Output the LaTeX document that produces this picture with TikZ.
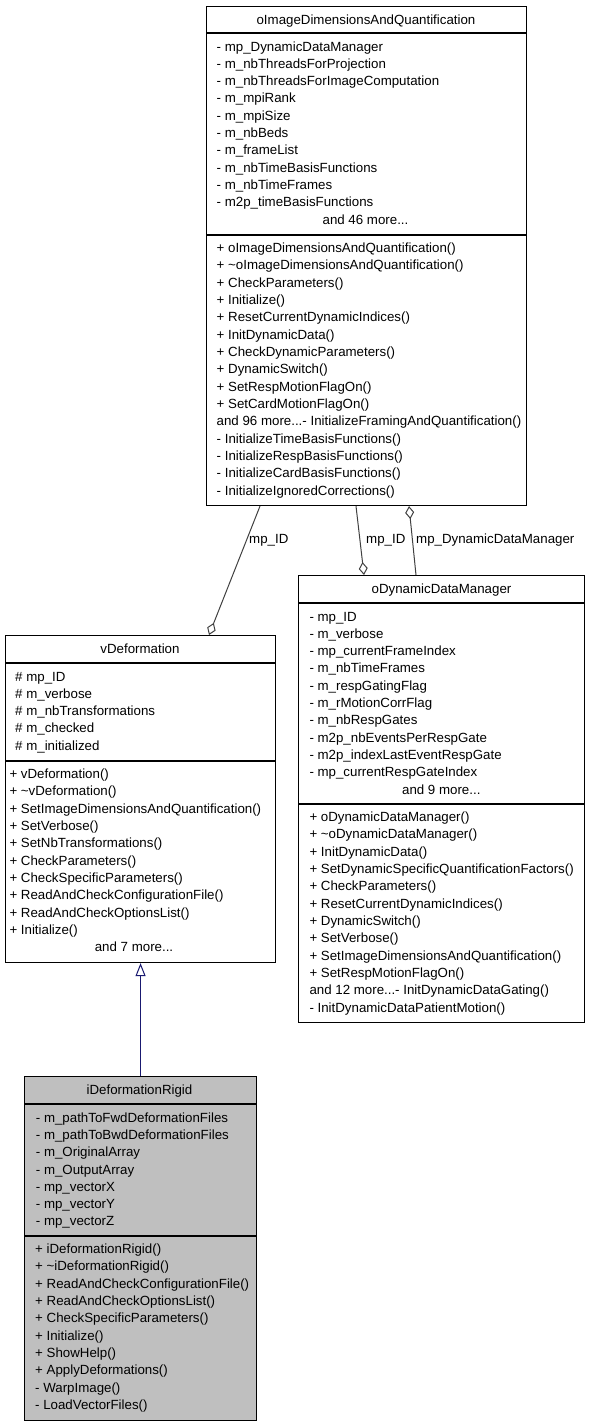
\documentclass[tikz,border=0pt]{standalone}
\usepackage{fontspec}
\setmainfont{Liberation Sans}
\usetikzlibrary{arrows.meta}
\definecolor{grey75}{HTML}{BFBFBF}
\definecolor{grey25}{HTML}{404040}
\definecolor{navyedge}{HTML}{191970}
\newcommand\moredots{...}
\tikzset{
  classbox/.style={draw=black, line width=1.1pt, anchor=north west, inner sep=0},
  sepline/.style={line width=1.1pt},
  member/.style={anchor=base west, inner sep=0, font=\fontsize{13.3}{16}\selectfont},
  classtitle/.style={anchor=base, inner sep=0, font=\fontsize{13.3}{16}\selectfont},
  edgelabel/.style={anchor=base west, inner sep=0, font=\fontsize{13.3}{16}\selectfont},
  aggr/.style={draw=grey25, line width=1pt, -{Diamond[open, length=13pt, width=9pt]}},
  inherit/.style={draw=navyedge, line width=1pt, -{Triangle[open, length=13pt, width=10pt]}}
}
\begin{document}
\begin{tikzpicture}[x=1pt, y=-1pt]
    \useasboundingbox (0,0) rectangle (589,1427);

    % 类框
    \node[classbox, minimum width=320, minimum height=499] (img) at (206,6) {};
    \node[classbox, minimum width=270, minimum height=327] (vdef) at (5,635) {};
    \node[classbox, minimum width=286, minimum height=447] (ddm) at (298,575) {};
    \node[classbox, fill=grey75, minimum width=232, minimum height=344] (rigid) at (24,1076) {};

    % 分隔线
    \draw[sepline] (206,33) -- (526,33) (206,235) -- (526,235);
    \draw[sepline] (5,663) -- (275,663) (5,761) -- (275,761);
    \draw[sepline] (298,603) -- (584,603) (298,804) -- (584,804);
    \draw[sepline] (24,1104) -- (256,1104) (24,1236) -- (256,1236);

    % oImageDimensionsAndQuantification
    \node[classtitle] (imgt) at (366,24.5) {oImageDimensionsAndQuantification};
    \foreach \s [count=\i from 0] in {- mp\_DynamicDataManager, - m\_nbThreadsForProjection,
        - m\_nbThreadsForImageComputation, - m\_mpiRank, - m\_mpiSize, - m\_nbBeds,
        - m\_frameList, - m\_nbTimeBasisFunctions, - m\_nbTimeFrames, - m2p\_timeBasisFunctions}
        \node[member] (imga\i) at (216.5,{51+17.33*\i}) {\s};
    \node[classtitle] (imgm) at (365.5,224.3) {and 46 more...};
    \foreach \s [count=\i from 0] in {+ oImageDimensionsAndQuantification(),
        + \textasciitilde oImageDimensionsAndQuantification(), + CheckParameters(), + Initialize(),
        + ResetCurrentDynamicIndices(), + InitDynamicData(), + CheckDynamicParameters(),
        + DynamicSwitch(), + SetRespMotionFlagOn(), + SetCardMotionFlagOn(),
        and 96 more\moredots- InitializeFramingAndQuantification(), - InitializeTimeBasisFunctions(),
        - InitializeRespBasisFunctions(), - InitializeCardBasisFunctions(),
        - InitializeIgnoredCorrections()}
        \node[member] (imgf\i) at (216.5,{252.6+17.33*\i}) {\s};

    % vDeformation
    \node[classtitle] (vdeft) at (140,653.5) {vDeformation};
    \foreach \s [count=\i from 0] in {\# mp\_ID, \# m\_verbose, \# m\_nbTransformations,
        \# m\_checked, \# m\_initialized}
        \node[member] (vdefa\i) at (15,{681+17.33*\i}) {\s};
    \foreach \s [count=\i from 0] in {+ vDeformation(), + \textasciitilde vDeformation(),
        + SetImageDimensionsAndQuantification(), + SetVerbose(), + SetNbTransformations(),
        + CheckParameters(), + CheckSpecificParameters(), + ReadAndCheckConfigurationFile(),
        + ReadAndCheckOptionsList(), + Initialize()}
        \node[member] (vdeff\i) at (9.3,{778.6+17.33*\i}) {\s};
    \node[classtitle] (vdefm) at (134,951.9) {and 7 more...};

    % oDynamicDataManager
    \node[classtitle] (ddmt) at (441.5,593.5) {oDynamicDataManager};
    \foreach \s [count=\i from 0] in {- mp\_ID, - m\_verbose, - mp\_currentFrameIndex,
        - m\_nbTimeFrames, - m\_respGatingFlag, - m\_rMotionCorrFlag, - m\_nbRespGates,
        - m2p\_nbEventsPerRespGate, - m2p\_indexLastEventRespGate, - mp\_currentRespGateIndex}
        \node[member] (ddma\i) at (309.3,{621+17.33*\i}) {\s};
    \node[classtitle] (ddmm) at (441.3,794.3) {and 9 more...};
    \foreach \s [count=\i from 0] in {+ oDynamicDataManager(), + \textasciitilde oDynamicDataManager(),
        + InitDynamicData(), + SetDynamicSpecificQuantificationFactors(), + CheckParameters(),
        + ResetCurrentDynamicIndices(), + DynamicSwitch(), + SetVerbose(),
        + SetImageDimensionsAndQuantification(), + SetRespMotionFlagOn(),
        and 12 more\moredots- InitDynamicDataGating(), - InitDynamicDataPatientMotion()}
        \node[member] (ddmf\i) at (309.3,{821.6+17.33*\i}) {\s};

    % iDeformationRigid
    \node[classtitle] (rigidt) at (139.5,1094.5) {iDeformationRigid};
    \foreach \s [count=\i from 0] in {- m\_pathToFwdDeformationFiles, - m\_pathToBwdDeformationFiles,
        - m\_OriginalArray, - m\_OutputArray, - mp\_vectorX, - mp\_vectorY, - mp\_vectorZ}
        \node[member] (rigida\i) at (35.7,{1122+17.33*\i}) {\s};
    \foreach \s [count=\i from 0] in {+ iDeformationRigid(), + \textasciitilde iDeformationRigid(),
        + ReadAndCheckConfigurationFile(), + ReadAndCheckOptionsList(),
        + CheckSpecificParameters(), + Initialize(), + ShowHelp(), + ApplyDeformations(),
        - WarpImage(), - LoadVectorFiles()}
        \node[member] (rigidf\i) at (35,{1253.6+17.33*\i}) {\s};

    % 继承
    \draw[inherit] (rigid.north) -- (vdef.south);

    % 聚合关系
    \draw[aggr] ([xshift=54]img.south west) -- ([xshift=204]vdef.north west);
    \draw[aggr] ([xshift=150]img.south west) -- ([xshift=66]ddm.north west);
    \draw[aggr] ([xshift=118]ddm.north west) -- ([xshift=203]img.south west);
    \node[edgelabel] (lbla) at (249,543) {mp\_ID};
    \node[edgelabel] (lblb) at (366,543) {mp\_ID};
    \node[edgelabel] (lblc) at (416,543) {mp\_DynamicDataManager};
\end{tikzpicture}
\end{document}
